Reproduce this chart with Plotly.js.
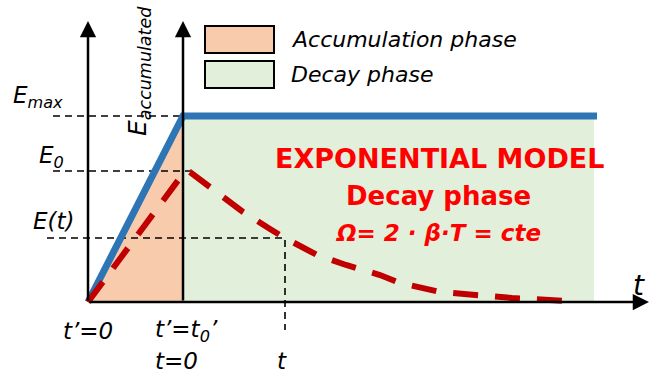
<!DOCTYPE html>
<html>
<head>
<meta charset="utf-8">
<script src="https://cdn.plot.ly/plotly-3.0.1.min.js"></script>
<style>html,body{margin:0;padding:0;background:#fff;}#chart{width:651px;height:376px;}</style>
</head>
<body>
<div id="chart"></div>
<script>
// ---- schematic values (time units along t', energy units along E) ----
const T0 = 95;            // t' = t0'  (end of accumulation phase, t = 0)
const T_DECAY_END = 506;  // end of the drawn decay window
const T_SAMPLE = 197;     // generic time t
const E_MAX = 186;        // maximum accumulated energy
const E_0 = 131;          // energy at start of decay
const E_T = 64;           // E(t)

// accumulated energy (blue)
const accumT = [0, 95, 509];
const accumE = [0, 186, 186];

// instantaneous energy: linear build-up then exponential decay (red dashed)
const instT = [0, 97, 102, 122, 155, 182, 197, 229, 258, 292, 312, 352, 382, 424, 479];
const instE = [0, 131, 130, 115, 90, 73, 64, 47, 37, 27, 19, 10, 7, 4, 1];

// phase fills
const accumFillT = [0, T0, T0, 0];
const accumFillE = [0, E_MAX, 0, 0];
const decayFillT = [T0, T_DECAY_END, T_DECAY_END, T0, T0];
const decayFillE = [0, 0, E_MAX, E_MAX, 0];

const legendLabels = ['Accumulation phase', 'Decay phase'];
const legendColors = ['#f8cbad', '#e2efda'];

const LBL = {family: 'DejaVu Sans', size: 23, color: '#000', style: 'italic'};
const LEG = {family: 'DejaVu Sans', size: 22, color: '#000', style: 'italic'};
const guide = {color: '#000', width: 1.6, dash: '7px,5px'};

const traces = [
  {x: decayFillT, y: decayFillE, type: 'scatter', mode: 'lines', fill: 'toself',
   fillcolor: legendColors[1], line: {width: 0}, hoverinfo: 'skip', showlegend: false},
  {x: accumFillT, y: accumFillE, type: 'scatter', mode: 'lines', fill: 'toself',
   fillcolor: legendColors[0], line: {width: 0}, hoverinfo: 'skip', showlegend: false},
  {x: [-35, T0], y: [E_MAX, E_MAX], type: 'scatter', mode: 'lines', line: guide, showlegend: false},
  {x: [-35, 102], y: [E_0, E_0], type: 'scatter', mode: 'lines', line: guide, showlegend: false},
  {x: [-41, T_SAMPLE, T_SAMPLE], y: [E_T, E_T, -28], type: 'scatter', mode: 'lines', line: guide, showlegend: false},
  {x: accumT, y: accumE, type: 'scatter', mode: 'lines', line: {color: '#2e75b6', width: 7}, showlegend: false},
  {x: instT, y: instE, type: 'scatter', mode: 'lines', line: {color: '#c00000', width: 6, dash: '25px,17px'}, showlegend: false}
];

function arrow(x, y, ax, ay) {
  return {x: x, y: y, ax: ax, ay: ay, xref: 'x', yref: 'y', axref: 'x', ayref: 'y',
          showarrow: true, arrowhead: 2, arrowsize: 1.3, arrowwidth: 2.5, arrowcolor: '#000', text: ''};
}
function label(text, x, y, xanchor, font, extra) {
  return Object.assign({x: x, y: y, xref: 'x', yref: 'y', text: text, showarrow: false,
          xanchor: xanchor, yanchor: 'middle', font: font}, extra || {});
}

const annotations = [
  arrow(0, 281, 0, 0),
  arrow(T0, 281, T0, 0),
  arrow(561, 0, 0, 0),
  label('E<sub>max</sub>', -77, 205, 'left', LBL),
  label('E<sub>0</sub>', -51, 145, 'left', LBL),
  label('E(t)', -57, 81, 'left', LBL),
  label('t’=0', 0, -29, 'center', LBL),
  label('t’=t<sub>0</sub>’', 65, -29, 'left', LBL),
  label('t=0', 65, -59, 'left', LBL),
  label('t', T_SAMPLE - 3, -59, 'center', LBL),
  label('t', 551, 17, 'center', Object.assign({}, LBL, {size: 28})),
  label('E<sub>accumulated</sub>', 51, 231, 'center', Object.assign({}, LBL, {size: 25}), {textangle: -90}),
  label(legendLabels[0], 201, 263, 'left', LEG),
  label(legendLabels[1], 201, 228, 'left', LEG),
  label('<b>EXPONENTIAL MODEL</b>', 351, 144, 'center', {family: 'DejaVu Sans', size: 27, color: '#ff0000'}),
  label('<b>Decay phase</b>', 350, 106, 'center', {family: 'DejaVu Sans', size: 26, color: '#ff0000'}),
  label('<b>Ω= 2 · β·T = cte</b>', 350, 69, 'center', {family: 'DejaVu Sans', size: 23, color: '#ff0000', style: 'italic'})
];

const shapes = [
  {type: 'rect', xref: 'x', yref: 'y', x0: 117, x1: 186, y0: 249, y1: 276, fillcolor: legendColors[0], line: {color: '#000', width: 2}},
  {type: 'rect', xref: 'x', yref: 'y', x0: 117, x1: 186, y0: 214, y1: 241, fillcolor: legendColors[1], line: {color: '#000', width: 2}}
];

const layout = {
  width: 651, height: 376,
  margin: {l: 0, r: 0, t: 0, b: 0},
  paper_bgcolor: '#fff', plot_bgcolor: '#fff',
  showlegend: false,
  xaxis: {range: [-88, 563], visible: false, fixedrange: true},
  yaxis: {range: [-74, 302], visible: false, fixedrange: true},
  annotations: annotations,
  shapes: shapes
};

Plotly.newPlot('chart', traces, layout, {staticPlot: true, displayModeBar: false});
</script>
</body>
</html>
